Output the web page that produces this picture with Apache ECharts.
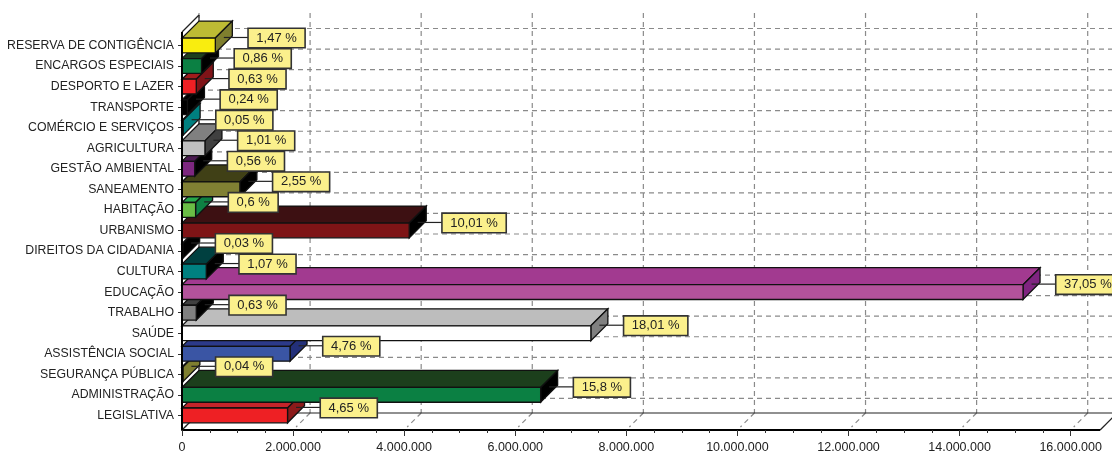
<!DOCTYPE html>
<html><head><meta charset="utf-8">
<style>html,body{margin:0;padding:0;background:#fff}#c{width:1112px;height:453px}</style>
<script src="https://cdn.jsdelivr.net/npm/echarts@6/dist/echarts.min.js"></script>
</head><body><div id="c"></div>
<script>
const categories = ["LEGISLATIVA","ADMINISTRAÇÃO","SEGURANÇA PÚBLICA","ASSISTÊNCIA SOCIAL","SAÚDE","TRABALHO","EDUCAÇÃO","CULTURA","DIREITOS DA CIDADANIA","URBANISMO","HABITAÇÃO","SANEAMENTO","GESTÃO AMBIENTAL","AGRICULTURA","COMÉRCIO E SERVIÇOS","TRANSPORTE","DESPORTO E LAZER","ENCARGOS ESPECIAIS","RESERVA DE CONTIGÊNCIA"];
const values = [1900000,6457000,16000,1945000,7361000,257000,15142000,437000,12000,4091000,245000,1042000,229000,413000,20000,98000,257000,351000,600000];
const percentLabels = ["4,65 %","15,8 %","0,04 %","4,76 %","18,01 %","0,63 %","37,05 %","1,07 %","0,03 %","10,01 %","0,6 %","2,55 %","0,56 %","1,01 %","0,05 %","0,24 %","0,63 %","0,86 %","1,47 %"];
const xTicks = [0,2000000,4000000,6000000,8000000,10000000,12000000,14000000,16000000];
const frontColors = ["#EE2024","#0B8043","#7F7F30","#3A55A4","#FFFFFF","#808080","#B3529B","#008080","#000000","#7E1416","#6ABD45","#808033","#7D277F","#C0C0C0","#008080","#000000","#EE2024","#0B8043","#F9ED0F"];
const topColors = ["#C4242A","#1C3F1C","#8B8B33","#2C3A8A","#BDBDBD","#404040","#A23A90","#004040","#000000","#3D1012","#27A84A","#404016","#4A1A50","#808080","#008080","#000000","#A01C1C","#1E3F1E","#BDBB34"];
const sideColors = ["#8B1A1A","#000000","#7F7F30","#23307A","#808080","#000000","#7F2480","#000000","#000000","#000000","#0E8043","#000000","#000000","#404040","#008080","#000000","#7F1418","#000000","#7F7F2E"];

const DEPTH = 17;
const OUTLINE = '#111';
const FONT = '"Liberation Sans",Arial,sans-serif';
const chart = echarts.init(document.getElementById('c'), null, {renderer:'canvas'});
function seg(x1,y1,x2,y2,stroke,w,dash){
  return {type:'line',shape:{x1,y1,x2,y2},style:{stroke,lineWidth:w,lineDash:dash||null,fill:null},silent:true};
}
function poly(points,fill){
  return {type:'polygon',shape:{points},style:{fill,stroke:OUTLINE,lineWidth:1.3},silent:true};
}
const DASH=[5,4], GRID='#8a8a8a';
chart.setOption({
  animation:false,
  backgroundColor:'#fff',
  textStyle:{fontFamily:FONT},
  grid:{left:182,top:35.2,width:888.7,height:390.5,containLabel:false,outerBoundsMode:'none'},
  xAxis:{type:'value',min:0,max:16000000,interval:2000000,offset:4.3,
    axisLine:{show:true,lineStyle:{color:'#000',width:2}},
    axisTick:{show:true,length:6,lineStyle:{color:'#333',width:1}},
    minorTick:{show:true,splitNumber:4,length:3,lineStyle:{color:'#333',width:1}},
    splitLine:{show:false},
    axisLabel:{margin:11,fontSize:12.5,color:'#222',
      formatter:v=>String(v).replace(/\B(?=(\d{3})+(?!\d))/g,'.')}},
  yAxis:{type:'category',data:categories,
    axisLine:{show:false},
    axisTick:{show:true,alignWithLabel:true,length:4,lineStyle:{color:'#333'}},
    splitLine:{show:false},
    axisLabel:{margin:8,fontSize:12.3,color:'#222',interval:0,lineHeight:14,padding:[2,0,0,0]}},
  series:[
    {type:'custom',name:'parede-vertical',z:1,silent:true,data:xTicks.map(v=>[v,0]),
     renderItem(p,api){
       const x=api.coord([api.value(0),0])[0]+DEPTH, b=p.coordSys.y+p.coordSys.height+4.3;
       return {type:'group',children:[
         seg(x,13,x,b-DEPTH,GRID,1.2,DASH),
         seg(x,b-DEPTH,x-DEPTH+3,b-3,GRID,1.2,DASH)]};
     }},
    {type:'custom',name:'parede-horizontal',z:1,silent:true,data:categories.map((c,i)=>[0,i]),
     renderItem(p,api){
       const c=api.coord([0,api.value(1)]);
       return seg(c[0]+DEPTH,c[1]-DEPTH,1112,c[1]-DEPTH,GRID,1.2,DASH);
     }},
    {type:'custom',name:'piso',z:1,silent:true,data:[[0,0]],
     renderItem(p,api){
       const r=p.coordSys, x0=r.x, b=r.y+r.height+4.3, xr=api.coord([16530000,0])[0], top=32;
       return {type:'group',children:[
         seg(x0,top,x0+DEPTH,top-DEPTH,'#222',1.2),
         seg(x0+DEPTH,top-DEPTH,x0+DEPTH,b-DEPTH,'#222',1.2),
         seg(x0,b,x0+DEPTH,b-DEPTH,'#222',1.2),
         seg(xr,b,xr+DEPTH,b-DEPTH,'#222',1.2),
         seg(x0+DEPTH,b-DEPTH,xr+DEPTH,b-DEPTH,'#222',1.2)]};
     }},
    {type:'custom',name:'barras',z:2,silent:true,data:values.map((v,i)=>[v,i]),
     renderItem(p,api){
       const i=api.value(1), s=api.coord([0,i]), e=api.coord([api.value(0),i]);
       const h=api.size([0,1])[1]*0.72, t=s[1]-h/2, b=s[1]+h/2, x0=s[0], x1=e[0], d=DEPTH;
       return {type:'group',children:[
         poly([[x0,t],[x1,t],[x1+d,t-d],[x0+d,t-d]],topColors[i]),
         poly([[x1,t],[x1+d,t-d],[x1+d,b-d],[x1,b]],sideColors[i]),
         poly([[x0,t],[x1,t],[x1,b],[x0,b]],frontColors[i])]};
     }},
    {type:'custom',name:'rotulos',z:3,silent:true,data:values.map((v,i)=>[v,i]),
     renderItem(p,api){
       const i=api.value(1), e=api.coord([api.value(0),i]);
       const y=e[1]-8, xs=e[0]+8.5, xb=e[0]+33.5;
       return {type:'group',children:[
         seg(xs,y,xb,y,'#222',1.2),
         {type:'text',silent:true,style:{text:percentLabels[i],x:xb,y:y+0.5,align:'left',verticalAlign:'middle',
           fontSize:13,fontFamily:FONT,fill:'#222',
           backgroundColor:'#FBF08C',borderColor:'#333',borderWidth:1.6,padding:[3,7.5,2,7.5]}}]};
     }},
    {type:'custom',name:'moldura',z:4,silent:true,data:[[0,0]],
     renderItem(p,api){
       const r=p.coordSys, x0=r.x, b=r.y+r.height+4.3, xr=api.coord([16530000,0])[0], top=32;
       return {type:'group',children:[
         seg(x0,top,x0,b,'#000',2),
         seg(r.x+r.width,b,xr,b,'#000',2)]};
     }}
  ]
});
</script></body></html>
